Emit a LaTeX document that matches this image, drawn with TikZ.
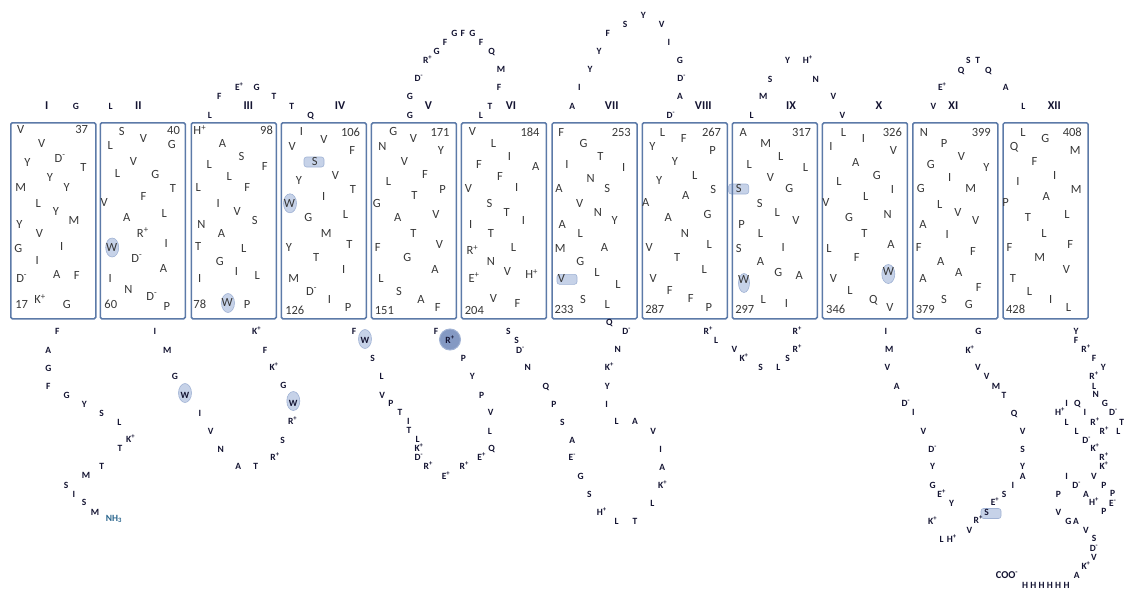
\documentclass[tikz,border=0pt]{standalone}
\usepackage{fontspec}
\setmainfont{Carlito}
\usepackage{xcolor}
\usepackage{tikz}
\usetikzlibrary{shapes.geometric}

\definecolor{boxblue}{RGB}{92,122,168}
\definecolor{hilite}{RGB}{198,210,232}
\definecolor{hiliteedge}{RGB}{160,178,212}
\definecolor{rdot}{RGB}{132,153,195}
\definecolor{loopink}{RGB}{20,20,50}
\definecolor{tmink}{RGB}{55,55,55}
\definecolor{nhink}{RGB}{40,100,140}

\newcommand\ppos{\textsuperscript{+}}
\newcommand\nneg{\textsuperscript{-}}

\begin{document}
\begin{tikzpicture}[
  x=1pt, y=-1pt,
  aa/.style={font=\fontsize{12.5}{13}\selectfont, text=tmink, inner sep=0pt,
             anchor=base, yshift=-4pt},
  lp/.style={font=\fontsize{9.5}{10}\selectfont\bfseries, text=loopink, inner sep=0pt,
             anchor=base, yshift=-3.1pt},
  tmnum/.style={font=\fontsize{12}{13}\selectfont\bfseries, text=loopink, inner sep=0pt,
                anchor=base, yshift=-3.9pt},
  tmbox/.style={draw=boxblue, line width=1.5pt, rounded corners=1.5pt, anchor=north west,
                minimum width=85pt, minimum height=196pt, inner sep=0pt},
  oval/.style={ellipse, fill=hilite, draw=hiliteedge, line width=0.6pt,
               minimum width=13pt, minimum height=19pt, inner sep=0pt},
  pill/.style={rectangle, rounded corners=2.5pt, fill=hilite, draw=hiliteedge, line width=0.6pt,
               minimum width=20pt, minimum height=10pt, inner sep=0pt},
  rdisc/.style={circle, fill=rdot, draw=hiliteedge, line width=1pt, minimum size=21pt, inner sep=0pt},
]
  \useasboundingbox (0,0) rectangle (1124,592);

  % ── highlighted residues (behind the letters) ──
  \node[oval] (hwII) at (112.2,247.5) {};
  \node[oval] (hwIII) at (228,303) {};
  \node[oval] (hwIV) at (290,203.3) {};
  \node[oval, minimum width=11pt] (hwIX) at (744,283) {};
  \node[oval] (hwX) at (888.3,274) {};
  \node[oval] (hwa) at (185,393) {};
  \node[oval] (hwb) at (293.3,401) {};
  \node[oval] (hwc) at (365,339) {};
  \node[pill] (hsIV) at (314,162) {};
  \node[pill] (hvVII) at (567,279.3) {};
  \node[pill] (hsIX) at (738.7,189) {};
  \node[pill] (hsc) at (991,513.5) {};
  \node[rdisc] (hr) at (450,339.5) {};

  % ── helix labels ──
  \foreach \x/\num [count=\k] in {46.7/I, 138.3/II, 248.3/III, 340/IV, 428.3/V, 511/VI,
      611.7/VII, 703.3/VIII, 791/IX, 879/X, 953.3/XI, 1054.3/XII}
    \node[tmnum] (lab\k) at (\x,106) {\num};

  % ── Helix I ──
  \node[tmbox] (tmI) at (10,122) {};
  \foreach \x/\y/\res [count=\k] in {10.7/7.7/V, 71.7/7.7/37, 31.7/21/V, 50/36/D\nneg, 17.3/40/Y,
      73.3/45/T, 40/55/Y, 10.7/65/M, 56.7/65/Y, 28.3/81/L, 46/89/Y, 64/98.7/M, 9.3/102.7/Y,
      29.3/111/V, 8.3/126/G, 51.7/124/I, 27.3/138.7/I, 46.7/152/A, 66.7/153.7/F, 11.7/156/D\nneg,
      11.7/182/17, 30/177.7/K\ppos, 56.7/182/G}
    \node[aa] (tmI-\k) at (10+\x,122+\y) {\res};

  % ── Helix II ──
  \node[tmbox] (tmII) at (99.5,122) {};
  \foreach \x/\y/\res [count=\k] in {22.3/9.3/S, 44/16.7/V, 74/8.7/40, 10.7/23.3/L, 72.3/22/G,
      34/39.3/V, 18/51/L, 55.7/52.7/G, 73.3/66.7/T, 44/74.3/F, 4.7/80/V, 64.7/91/L, 27.3/95.3/A,
      43.3/111/R\ppos, 12.3/125.3/W, 66.7/121/I, 37.3/136/D\nneg, 64/146.7/A, 10.7/156/I,
      29/167.7/N, 52.3/174.3/D\nneg, 11.3/182/60, 67.3/184.3/P}
    \node[aa] (tmII-\k) at (99.5+\x,122+\y) {\res};

  % ── Helix III ──
  \node[tmbox] (tmIII) at (190.5,122) {};
  \foreach \x/\y/\res [count=\k] in {9.3/8.7/H\ppos, 76/8.7/98, 32/21/A, 51/34.3/S, 18.7/42/L,
      74.3/44.3/F, 38.7/54.3/L, 7.7/65.3/L, 56.7/65.3/F, 27.7/81/I, 46.7/89.3/V, 64.3/98.7/S,
      11/102/N, 31/111/A, 7.7/124.3/T, 53.3/126/L, 29.3/139.3/G, 46/149.3/I, 66.7/153.7/L,
      9.3/156/I, 9.3/182/78, 36.7/180/W, 56.7/182/P}
    \node[aa] (tmIII-\k) at (190.5+\x,122+\y) {\res};

  % ── Helix IV ──
  \node[tmbox] (tmIV) at (280.5,122) {};
  \foreach \x/\y/\res [count=\k] in {21/9.3/I, 11.7/24.3/V, 43.3/17.7/V, 70/10/106, 71.7/28.7/F,
      34.3/39.3/S, 55/53.3/V, 18.3/58.7/Y, 72.3/67.7/T, 43.3/74.3/I, 9/81/W, 27.7/95.3/G,
      65/92/L, 45.7/111/M, 69/122/T, 8.3/125.3/Y, 35.7/135.3/T, 63.3/147.7/I, 13.3/156.7/M,
      31/169.3/D\nneg, 49/177.7/I, 14.3/188.7/126, 67.7/185.3/P}
    \node[aa] (tmIV-\k) at (280.5+\x,122+\y) {\res};

  % ── Helix V ──
  \node[tmbox] (tmV) at (370.7,122) {};
  \foreach \x/\y/\res [count=\k] in {22.7/9.3/G, 42.7/16.7/V, 69.3/10/171, 11.7/24.3/N,
      70.3/28.7/Y, 33.7/39.3/V, 54.3/52.7/F, 17.7/59.3/L, 72/67.7/P, 43.7/73.3/T, 6/81/G,
      27/95.3/A, 65.3/92/V, 42.7/111/T, 68.7/122/V, 7/125.3/F, 36.7/135.3/G, 64.3/147.7/A,
      10.3/156.7/L, 28.3/169.3/S, 50.3/177.7/A, 67/185.3/F, 13.7/188.7/151}
    \node[aa] (tmV-\k) at (370.7+\x,122+\y) {\res};

  % ── Helix VI ──
  \node[tmbox] (tmVI) at (460.7,122) {};
  \foreach \x/\y/\res [count=\k] in {11.7/9.3/V, 69.3/10/184, 32.7/21/L, 48.7/34.3/I, 18.3/42/F,
      75/44.3/A, 39.3/54.3/F, 7.7/66/V, 56/65.3/I, 28.7/81/S, 46/90/T, 62.7/98.7/I, 10/102/I,
      30.3/111/T, 11.7/128.7/R\ppos, 52.7/125.3/L, 30.3/139.3/N, 46.7/149.3/V, 71/152.7/H\ppos,
      13.3/156/E\ppos, 32.7/176.7/V, 56.7/181/F, 13.7/188.7/204}
    \node[aa] (tmVI-\k) at (460.7+\x,122+\y) {\res};

  % ── Helix VII ──
  \node[tmbox] (tmVII) at (551.3,122) {};
  \foreach \x/\y/\res [count=\k] in {10/10/F, 70/10/253, 32.3/21/G, 49/34.3/T, 15.7/42/I,
      72.3/45.3/I, 39.3/56/N, 7.7/66/A, 56/66.7/S, 28.3/81/V, 46.7/90/N, 63.3/98.7/Y, 11/102/A,
      29/111/L, 9/126.7/M, 53.3/125.3/A, 29/139.3/G, 45.7/150/L, 10/156.7/V, 66.7/162/L,
      31.7/177.7/S, 56/182/L, 12.7/187.7/233}
    \node[aa] (tmVII-\k) at (551.3+\x,122+\y) {\res};

  % ── Helix VIII ──
  \node[tmbox] (tmVIII) at (641.5,122) {};
  \foreach \x/\y/\res [count=\k] in {21/10/L, 42.3/16.7/F, 70/10/267, 11/24.3/Y, 71/28.7/P,
      33.3/39.3/Y, 53.3/53.3/L, 17.7/58.7/Y, 71.7/67.7/S, 44.3/73.3/A, 4.3/80/A, 26.7/95.3/A,
      66/92/G, 43.3/111/N, 67.7/122/L, 7.7/125.3/V, 35.7/135.3/T, 62.7/147.7/L, 11.7/156.7/V,
      28.3/168.7/F, 49.3/176.7/F, 67.3/185.3/P, 13.3/187.7/287}
    \node[aa] (tmVIII-\k) at (641.5+\x,122+\y) {\res};

  % ── Helix IX ──
  \node[tmbox] (tmIX) at (731.5,122) {};
  \foreach \x/\y/\res [count=\k] in {11.7/10/A, 34.3/21/M, 70/10/317, 49.3/34.3/L, 17.7/42/L,
      74/45.3/L, 39/55.3/V, 7.3/66.7/S, 57.7/66/G, 28.3/81/S, 45.7/90/L, 64.3/98.7/V, 10/102/P,
      29/111/L, 7.3/126/S, 51.7/125.3/I, 29/139.3/A, 46.7/150/G, 67.7/153.3/A, 12.3/157.7/W,
      31.7/177.7/L, 55/181/I, 13.3/187.7/297}
    \node[aa] (tmIX-\k) at (731.5+\x,122+\y) {\res};

  % ── Helix X ──
  \node[tmbox] (tmX) at (821.7,122) {};
  \foreach \x/\y/\res [count=\k] in {21.7/10/L, 41.7/16.7/I, 70.7/10/326, 9.3/24.3/I,
      71.7/28.7/V, 34/40/A, 55/53.3/G, 17.3/59.3/L, 70.7/67.7/I, 44/74.3/L, 4.3/80/V,
      27.3/95.3/G, 66/92/N, 42.7/111/T, 69.3/122/A, 7.3/126/L, 35/135.3/F, 66.7/149.3/W,
      11.7/156.7/V, 28.3/168.7/L, 51.7/177.7/Q, 68.3/185.3/V, 14/187.7/346}
    \node[aa] (tmX-\k) at (821.7+\x,122+\y) {\res};

  % ── Helix XI ──
  \node[tmbox] (tmXI) at (912,122) {};
  \foreach \x/\y/\res [count=\k] in {12/10/N, 69.3/10/399, 32/21/P, 49.3/34.3/V, 18.7/42/G,
      74.3/45.3/Y, 37.7/55.3/I, 8.7/66/G, 58.7/66.7/M, 27.7/82/L, 46/90/V, 63.7/98.7/V,
      11/102/A, 35.3/112/I, 6.7/125.3/F, 61/129.3/F, 28.7/139.3/A, 46.7/150/A, 11/156.7/A,
      66.7/165.3/F, 32/177.7/S, 56.7/182/G, 13.3/187.7/379}
    \node[aa] (tmXI-\k) at (912+\x,122+\y) {\res};

  % ── Helix XII ──
  \node[tmbox] (tmXII) at (1002.3,122) {};
  \foreach \x/\y/\res [count=\k] in {20.7/10/L, 70/10/408, 43/16.7/G, 11.7/24.3/Q, 73/28.7/M,
      32.3/39.3/F, 52.3/53.3/I, 15.7/59.3/I, 74/67.7/M, 44/74.3/A, 3.3/80/P, 25.7/95.3/T,
      64.7/92/L, 41.7/111/L, 7.3/125.3/F, 68/122/F, 37.3/135.3/M, 64/147.7/V, 10.7/156.7/T,
      27.3/169.3/L, 48.3/177.7/I, 66.3/185.3/L, 13.3/187.7/428}
    \node[aa] (tmXII-\k) at (1002.3+\x,122+\y) {\res};

  % ── extracellular loops ──
  \foreach \x/\y/\res [count=\k] in {76/106/G, 110.7/106/L}
    \node[lp] (ex1-\k) at (\x,\y) {\res};
  \foreach \x/\y/\res [count=\k] in {210/115/L, 219.3/96.7/F, 239.3/87.3/E\ppos, 256.7/87.3/G,
      274/96.7/T, 291.7/106/T, 310.7/115/Q}
    \node[lp] (ex2-\k) at (\x,\y) {\res};
  \foreach \x/\y/\res [count=\k] in {410/115/G, 410/96.7/G, 419/78.3/D\nneg, 427.7/60/R\ppos,
      436.7/51.7/G, 445/42.7/F, 454.3/33.3/G, 462.7/33.3/F, 472.3/33.3/G, 481/42.7/F,
      491.7/51.7/Q, 501/69.3/M, 499/87.3/F, 490/106/T, 481/115/L}
    \node[lp] (ex3-\k) at (\x,\y) {\res};
  \foreach \x/\y/\res [count=\k] in {572.3/106/A, 579.3/87.3/I, 590/69.3/Y, 599/51.7/Y,
      607.7/33.3/F, 625/24/S, 643.3/15/Y, 661.7/24/V, 669/42.7/I, 680/60.7/G, 681.7/78.3/D\nneg,
      680/96.7/A, 671/115/D\nneg}
    \node[lp] (ex4-\k) at (\x,\y) {\res};
  \foreach \x/\y/\res [count=\k] in {751.7/115/L, 763.3/96.7/M, 770/79/S, 787.7/60.7/Y,
      807.7/60.7/H\ppos, 815.7/79/N, 833.3/96.7/V, 842.3/115/V}
    \node[lp] (ex5-\k) at (\x,\y) {\res};
  \foreach \x/\y/\res [count=\k] in {933.3/106/V, 942.3/87.3/E\ppos, 961/70/Q, 968.3/60.7/S,
      977.7/60.7/T, 988.3/70/Q, 1005.7/87.3/A, 1023.3/106/L}
    \node[lp] (ex6-\k) at (\x,\y) {\res};

  % ── N terminus ──
  \foreach \x/\y/\res [count=\k] in {57.3/331.7/F, 48.3/350/A, 48.3/368.3/G, 48.3/386/F,
      66.7/395/G, 84.3/404/Y, 101.7/413.3/S, 119.3/422.7/L, 130.7/439.3/K\ppos, 120/448.3/T,
      101.7/466.7/T, 86/475.7/M, 66/485/S, 74/494/I, 84/502.7/S, 95/512.3/M}
    \node[lp] (nt-\k) at (\x,\y) {\res};
  \node[lp, text=nhink] (nh3) at (114,518.3) {NH\textsubscript{3}};

  % ── cytoplasmic loops ──
  \foreach \x/\y/\res [count=\k] in {155/331.7/I, 167.3/350/M, 175/376.7/G, 185/395/W,
      200/413.3/I, 210.7/431/V, 220.7/449/N, 238.3/466.7/A, 255.7/466.7/T, 275/457.7/R\ppos,
      282.7/440/S, 292.7/421.7/R\ppos, 293.3/403.3/W, 283.3/385.7/G, 274/367.7/K\ppos,
      265/350/F, 256.7/331.7/K\ppos}
    \node[lp] (cy1-\k) at (\x,\y) {\res};
  \foreach \x/\y/\res [count=\k] in {354/331.7/F, 365/340/W, 372.7/358.3/S, 381.7/376.7/L,
      382.3/395/V, 391/403.3/P, 400/412.7/T, 408.3/421.7/I, 409/430.7/T, 417.7/439.3/L,
      419/448.3/K\ppos, 419/457.3/D\nneg, 428.3/466.7/R\ppos, 446/476/E\ppos, 464.3/466.7/R\ppos,
      481.7/457.3/E\ppos, 491.7/448.3/Q, 490/431/L, 490.7/412.7/V, 481.7/395/P, 472.3/376.7/Y,
      463.3/358.3/P, 450/340/R\ppos, 436/331.7/F}
    \node[lp] (cy2-\k) at (\x,\y) {\res};
  \foreach \x/\y/\res [count=\k] in {508.3/331.7/S, 516.7/340.3/S, 520.5/350.3/D\nneg,
      527.7/367.7/N, 546/386/Q, 554/404/P, 562.3/422.3/S, 572.3/440/A, 572.3/457.7/E\nneg,
      580.7/476/G, 589.3/494/S, 601.7/512.3/H\ppos, 616.7/521/L, 635/521/T, 652.3/503.3/L,
      662.7/485/K\ppos, 662.3/467.3/A, 660.7/449/I, 653.3/431/V, 635/421.7/A, 616.7/421.7/L,
      606.7/404/I, 607.3/386/Y, 609.3/367.7/K\ppos, 617.7/349.3/N, 626.7/331.7/D\nneg,
      609.3/322.7/Q}
    \node[lp] (cy3-\k) at (\x,\y) {\res};
  \foreach \x/\y/\res [count=\k] in {708.3/331.7/R\ppos, 716/340.7/L, 734.3/349.3/V,
      744/358.3/K\ppos, 760.7/367.7/S, 778.3/367.7/L, 787.7/358.3/S, 797.3/349.3/R\ppos,
      797.3/331.7/R\ppos}
    \node[lp] (cy4-\k) at (\x,\y) {\res};
  \foreach \x/\y/\res [count=\k] in {886/331.7/I, 889.3/349.3/M, 887.3/367.7/V, 896.7/386/A,
      906/403.3/D\nneg, 913.3/412.3/I, 923.3/431/V, 932.7/449.3/D\nneg, 932.7/466.7/Y,
      932.7/485/G, 941.7/494/E\ppos, 951.7/503.3/Y, 932.7/521/K\ppos, 941.7/539.3/L,
      951.7/539.3/H\ppos, 969.3/530.7/V, 978.3/520.5/R\ppos, 986.7/512.5/S, 995/502.7/E\ppos,
      1004/494/S, 1013/485/I, 1022.7/476/A, 1022.7/466.7/Y, 1022.7/449.3/S, 1022.7/431/V,
      1014/413.3/Q, 1004/395/T, 996/386/M, 986.7/376.7/V, 978/367.7/V, 970/350/K\ppos,
      978.3/331.7/G}
    \node[lp] (cy5-\k) at (\x,\y) {\res};

  % ── C terminus ──
  \foreach \x/\y/\res [count=\k] in {1076/331.7/Y, 1076/340/F, 1086/349.3/R\ppos,
      1094/358.3/F, 1103.3/367.7/Y, 1094/376.7/R\ppos, 1094/386/L, 1095.7/394/N, 1105/403.3/G,
      1113.3/412.7/D\nneg, 1121.7/422.3/T, 1118.3/431.7/L, 1104.3/431.7/R\ppos,
      1095/422.3/R\ppos, 1085/412.7/I, 1077.3/403.3/Q, 1066.7/403.3/I, 1060/412.7/H\ppos,
      1066.7/422.3/L, 1076.7/431.7/L, 1086.7/440/D\nneg, 1095/448.3/K\ppos, 1104/457.3/R\ppos,
      1104/466.7/K\ppos, 1094/476/V, 1104/485/P, 1112.7/493.5/P, 1112.7/503.5/E\nneg,
      1104/511.7/P, 1094/502.7/H\ppos, 1086/494/A, 1076.7/485/D\nneg, 1066.7/476/I,
      1058.3/494/P, 1058.3/512.7/V, 1068.3/521.7/G, 1076/521.7/A, 1086/530.7/V, 1094/538.8/S,
      1094/548.5/D\nneg, 1094/557.3/V, 1086/566/K\ppos, 1076.7/575/A}
    \node[lp] (ct-\k) at (\x,\y) {\res};
  \foreach \k in {0,...,5}
    \node[lp] (his\k) at (1025+8.3*\k,585) {H};
  \node[lp, font=\fontsize{10.5}{11}\selectfont\bfseries] (coo) at (1007,575) {COO\nneg};
\end{tikzpicture}
\end{document}
